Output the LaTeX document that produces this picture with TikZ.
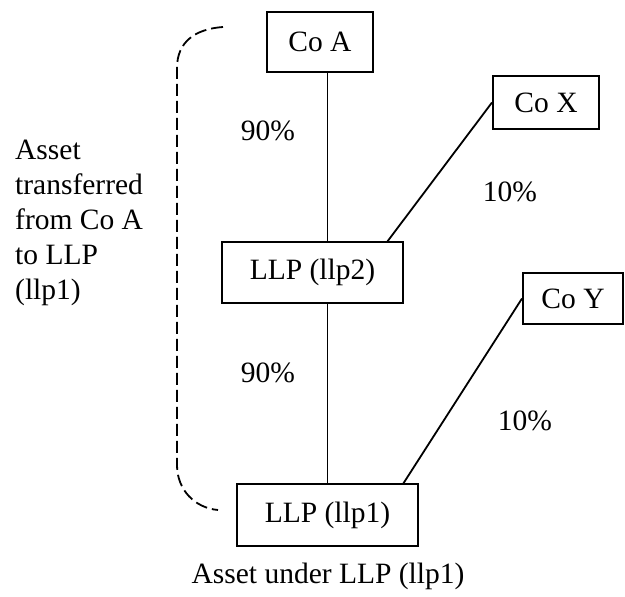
\documentclass[tikz,border=0pt]{standalone}
\usepackage{fontspec}
\setmainfont{Liberation Serif}
\begin{document}
\begin{tikzpicture}[x=1pt,y=-1pt,
  box/.style={draw,line width=2pt,inner sep=0pt,font=\fontsize{29.5}{35}\selectfont},
  lbl/.style={inner sep=0pt,font=\fontsize{29.5}{35}\selectfont},
  conn/.style={line width=1.8pt},
  brace/.style={line width=1.8pt,dash pattern=on 12pt off 5pt}]
\useasboundingbox (0,0) rectangle (625,597);
\node[box,minimum width=106pt,minimum height=60pt] (coA) at (320,42) {Co A};
\node[box,minimum width=106pt,minimum height=53pt] (coX) at (546,102.5) {Co X};
\node[box,minimum width=181pt,minimum height=61pt] (llp2) at (312.5,272) {LLP (llp2)};
\node[box,minimum width=100pt,minimum height=51pt] (coY) at (573,298.5) {Co Y};
\node[box,minimum width=181pt,minimum height=62pt] (llp1) at (327.5,515) {LLP (llp1)};
\coordinate (l2x) at (387,242);
\coordinate (l1y) at (403,484);
\draw[conn] (llp1.north |- coA.south) -- (llp1.north |- llp2.north);
\draw[conn] (llp1.north |- llp2.south) -- (llp1.north);
\draw[conn] (l2x) -- (coX.west);
\draw[conn] (l1y) -- (coY.west);
\node[lbl] (p1) at (268,131) {90\%};
\node[lbl] (p2) at (510,192) {10\%};
\node[lbl] (p3) at (268,373) {90\%};
\node[lbl] (p4) at (525,421) {10\%};
\node[lbl,anchor=west,align=left] (asset) at (15,223) {Asset\\transferred\\from Co A\\to LLP\\(llp1)};
\node[lbl] (under) at (328,576) {Asset under LLP (llp1)};
\coordinate (bt) at (223,27);
\coordinate (bb) at (218,510);
\draw[brace] (bt) .. controls (195,29) and (177,42) .. (177,68) -- (177,465) .. controls (177,490) and (195,508) .. (bb);
\end{tikzpicture}
\end{document}
